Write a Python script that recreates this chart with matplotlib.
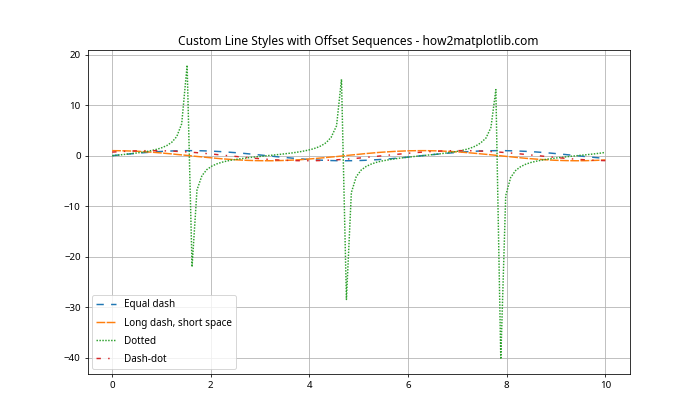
import matplotlib
matplotlib.use("Agg")
import matplotlib.pyplot as plt

plt.rcParams['font.family'] = ['Noto Sans', 'DejaVu Sans']

x = [0.00,0.10,0.20,0.30,0.40,0.51,0.61,0.71,0.81,0.91,1.01,1.11,1.21,1.31,1.41,1.52,1.62,1.72,1.82,1.92,
     2.02,2.12,2.22,2.32,2.42,2.53,2.63,2.73,2.83,2.93,3.03,3.13,3.23,3.33,3.43,3.54,3.64,3.74,3.84,3.94,
     4.04,4.14,4.24,4.34,4.44,4.55,4.65,4.75,4.85,4.95,5.05,5.15,5.25,5.35,5.45,5.56,5.66,5.76,5.86,5.96,
     6.06,6.16,6.26,6.36,6.46,6.57,6.67,6.77,6.87,6.97,7.07,7.17,7.27,7.37,7.47,7.58,7.68,7.78,7.88,7.98,
     8.08,8.18,8.28,8.38,8.48,8.59,8.69,8.79,8.89,8.99,9.09,9.19,9.29,9.39,9.49,9.60,9.70,9.80,9.90,10.00]

equal_dash = [0.000,0.101,0.201,0.298,0.393,0.484,0.570,0.650,0.723,0.789,0.847,0.896,0.936,0.967,0.988,0.998,0.999,0.989,0.970,0.940,
              0.901,0.852,0.795,0.730,0.657,0.578,0.493,0.403,0.308,0.211,0.111,0.010,-0.091,-0.191,-0.289,-0.384,-0.475,-0.561,-0.642,-0.716,
              -0.783,-0.841,-0.892,-0.933,-0.964,-0.986,-0.998,-0.999,-0.991,-0.972,-0.943,-0.905,-0.858,-0.801,-0.737,-0.665,-0.586,-0.502,-0.412,-0.318,
              -0.221,-0.121,-0.021,0.080,0.180,0.279,0.374,0.466,0.553,0.634,0.709,0.776,0.836,0.887,0.929,0.962,0.984,0.997,1.000,0.992,
              0.974,0.947,0.909,0.863,0.808,0.744,0.673,0.595,0.511,0.421,0.328,0.231,0.131,0.031,-0.070,-0.170,-0.269,-0.365,-0.457,-0.544]

long_dash = [1.00,0.99,0.98,0.95,0.92,0.88,0.82,0.76,0.69,0.61,0.53,0.44,0.35,0.25,0.16,0.06,-0.05,-0.15,-0.24,-0.34,
             -0.43,-0.52,-0.61,-0.68,-0.75,-0.82,-0.87,-0.92,-0.95,-0.98,-0.99,-1.00,-1.00,-0.98,-0.96,-0.92,-0.88,-0.83,-0.77,-0.70,
             -0.62,-0.54,-0.45,-0.36,-0.26,-0.17,-0.07,0.04,0.14,0.23,0.33,0.43,0.51,0.60,0.68,0.75,0.81,0.87,0.91,0.95,
             0.98,0.99,1.00,1.00,0.98,0.96,0.93,0.88,0.83,0.77,0.71,0.63,0.55,0.46,0.37,0.27,0.18,0.08,-0.02,-0.13,
             -0.22,-0.32,-0.42,-0.51,-0.59,-0.67,-0.74,-0.80,-0.86,-0.91,-0.94,-0.97,-0.99,-1.00,-1.00,-0.99,-0.96,-0.93,-0.89,-0.84]

dotted = [0.00,0.10,0.20,0.31,0.43,0.55,0.69,0.85,1.05,1.28,1.59,2.02,2.67,3.79,6.33,17.95,-22.03,-6.78,-3.96,-2.75,
          -2.07,-1.63,-1.31,-1.07,-0.87,-0.71,-0.57,-0.44,-0.32,-0.22,-0.11,-0.01,0.09,0.19,0.30,0.42,0.54,0.68,0.84,1.03,
          1.26,1.56,1.97,2.59,3.64,5.93,15.15,-28.49,-7.30,-4.14,-2.84,-2.13,-1.67,-1.34,-1.09,-0.89,-0.72,-0.58,-0.45,-0.34,
          -0.23,-0.12,-0.02,0.08,0.18,0.29,0.40,0.53,0.66,0.82,1.00,1.23,1.52,1.92,2.51,3.50,5.58,13.10,-40.30,-7.91,
          -4.33,-2.94,-2.19,-1.71,-1.37,-1.11,-0.91,-0.74,-0.59,-0.46,-0.35,-0.24,-0.13,-0.03,0.07,0.17,0.28,0.39,0.51,0.65]

dash_dot = [0.71,0.77,0.83,0.89,0.93,0.96,0.98,1.00,1.00,0.99,0.97,0.95,0.91,0.86,0.81,0.75,0.67,0.60,0.51,0.42,
            0.33,0.23,0.13,0.03,-0.07,-0.17,-0.27,-0.36,-0.45,-0.54,-0.62,-0.70,-0.77,-0.83,-0.88,-0.92,-0.96,-0.98,-1.00,-1.00,
            -0.99,-0.98,-0.95,-0.91,-0.87,-0.81,-0.75,-0.68,-0.60,-0.52,-0.43,-0.34,-0.24,-0.14,-0.04,0.06,0.16,0.26,0.35,0.45,
            0.53,0.62,0.69,0.76,0.82,0.88,0.92,0.96,0.98,1.00,1.00,0.99,0.98,0.95,0.92,0.87,0.82,0.76,0.69,0.61,
            0.53,0.44,0.35,0.25,0.15,0.05,-0.05,-0.15,-0.25,-0.34,-0.44,-0.52,-0.61,-0.68,-0.75,-0.82,-0.87,-0.92,-0.95,-0.98]

labels = ['Equal dash', 'Long dash, short space', 'Dotted', 'Dash-dot']
series = [equal_dash, long_dash, dotted, dash_dot]
styles = [(0, (5, 5)), (0, (6, 1)), (0, (1, 1)), (0, (3, 5, 1, 5))]

fig, ax = plt.subplots(figsize=(10, 6), dpi=70)
for y, ls, lab in zip(series, styles, labels):
    ax.plot(x, y, linestyle=ls, label=lab)
ax.set_title('Custom Line Styles with Offset Sequences - how2matplotlib.com', fontsize=12.3)
ax.legend(labelspacing=0.72, fontsize=10.2)
ax.grid(True)
fig.savefig("out.png")
